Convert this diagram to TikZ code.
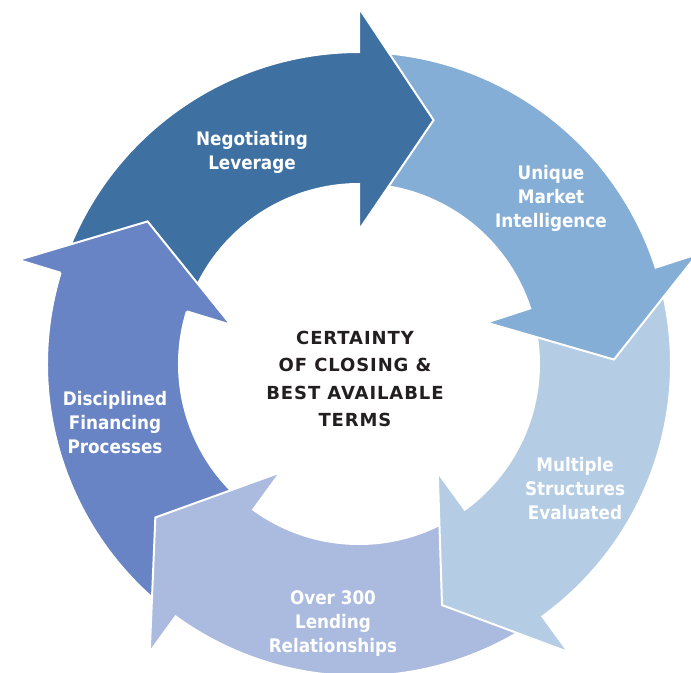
\documentclass[tikz,border=0pt]{standalone}
\usepackage{fontspec}
\setmainfont{DejaVu Sans}
\newfontfamily\lblfont{DejaVu Sans Condensed}
\newfontfamily\ctrfont[LetterSpace=5]{DejaVu Sans}
\definecolor{cdark}{HTML}{3E70A1}
\definecolor{clight}{HTML}{85AED6}
\definecolor{clighter}{HTML}{B4CCE4}
\definecolor{clav}{HTML}{AABBDF}
\definecolor{cperi}{HTML}{6884C4}
\definecolor{ctrtext}{HTML}{231F20}
\newcommand\cycarrow[2]{%
  \pgfmathsetmacro\cbase{#1}%
  \pgfmathsetmacro\ctip{#1-17}%
  \pgfmathsetmacro\ctail{#1+68}%
  \path[arrowshape,fill=#2] (\ctail:312) arc[start angle=\ctail,end angle=\cbase,radius=312]
    -- (\cbase:356) -- (\ctip:255) -- (\cbase:134) -- (\cbase:180)
    arc[start angle=\cbase,end angle=\ctail,radius=180] -- cycle;}
\begin{document}
\begin{tikzpicture}[x=0.75pt,y=0.75pt,
  arrowshape/.style={draw=white,line width=1.5pt,line join=miter},
  lbl/.style={text=white,font=\lblfont\bfseries\fontsize{14}{18}\selectfont,align=center,inner sep=0pt},
  ctr/.style={text=ctrtext,font=\ctrfont\bfseries\fontsize{13.5}{20.6}\selectfont,align=center,inner sep=0pt}]
\useasboundingbox (-359,-308) rectangle (332,364);
\cycarrow{163}{cperi}
\cycarrow{-126}{clav}
\cycarrow{-54}{clighter}
\cycarrow{18}{clight}
\cycarrow{90}{cdark}
% periwinkle head back on top of the dark tail
\fill[cperi] (163:356) -- (146:255) -- (163:134) -- cycle;
\draw[white,line width=1.5pt,line join=miter] (163:312) -- (163:356) -- (146:255) -- (163:134) -- (163:180);
\node[lbl] (neg) at (-107,212) {Negotiating\\Leverage};
\node[lbl] (uni) at (192,166) {Unique\\Market\\Intelligence};
\node[lbl] (mul) at (216,-125) {Multiple\\Structures\\Evaluated};
\node[lbl] (ovr) at (-26,-260) {Over 300\\Lending\\Relationships};
\node[lbl] (dis) at (-244,-59) {Disciplined\\Financing\\Processes};
\node[ctr] (ctr) at (-4,-15) {CERTAINTY\\OF CLOSING \&\\BEST AVAILABLE\\TERMS};
\end{tikzpicture}
\end{document}
